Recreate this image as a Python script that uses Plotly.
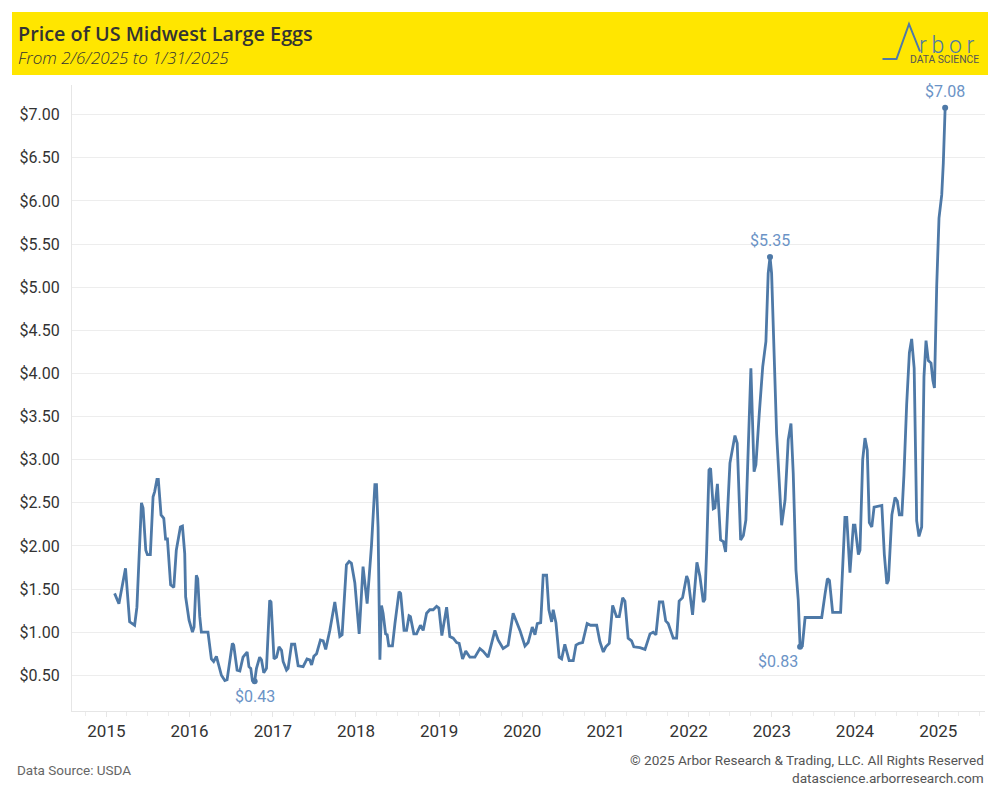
import plotly.graph_objects as go

# ---------------- data ----------------
dates = [
    "2015-02-06", "2015-02-25", "2015-03-26", "2015-04-13", "2015-05-05", "2015-05-15", "2015-06-04", "2015-06-11",
    "2015-06-23", "2015-06-30", "2015-07-13", "2015-07-25", "2015-08-01", "2015-08-11", "2015-08-17", "2015-08-29",
    "2015-09-10", "2015-09-18", "2015-09-26", "2015-10-10", "2015-10-24", "2015-11-04", "2015-11-22", "2015-12-01",
    "2015-12-11", "2015-12-15", "2015-12-30", "2016-01-14", "2016-01-21", "2016-01-31", "2016-02-06", "2016-02-15",
    "2016-02-22", "2016-03-22", "2016-04-06", "2016-04-16", "2016-04-28", "2016-05-10", "2016-05-20", "2016-06-04",
    "2016-06-14", "2016-07-07", "2016-07-13", "2016-07-28", "2016-08-09", "2016-08-23", "2016-09-10", "2016-09-18",
    "2016-09-26", "2016-10-03", "2016-10-13", "2016-10-21", "2016-11-04", "2016-11-12", "2016-11-22", "2016-12-04",
    "2016-12-18", "2016-12-24", "2017-01-06", "2017-01-17", "2017-01-28", "2017-02-08", "2017-02-15", "2017-03-02",
    "2017-03-09", "2017-03-24", "2017-04-07", "2017-04-22", "2017-05-14", "2017-05-31", "2017-06-12", "2017-06-20",
    "2017-06-30", "2017-07-12", "2017-07-29", "2017-08-10", "2017-08-21", "2017-09-08", "2017-09-30", "2017-10-22",
    "2017-11-01", "2017-11-20", "2017-12-02", "2017-12-12", "2017-12-27", "2018-01-15", "2018-02-01", "2018-02-19",
    "2018-03-10", "2018-03-25", "2018-04-01", "2018-04-08", "2018-04-16", "2018-04-23", "2018-04-30", "2018-05-11",
    "2018-05-18", "2018-05-25", "2018-06-10", "2018-06-21", "2018-07-09", "2018-07-16", "2018-07-31", "2018-08-11",
    "2018-08-22", "2018-08-28", "2018-09-12", "2018-09-24", "2018-10-11", "2018-10-23", "2018-11-07", "2018-11-21",
    "2018-12-06", "2018-12-21", "2018-12-31", "2019-01-13", "2019-02-03", "2019-02-17", "2019-03-04", "2019-03-19",
    "2019-03-30", "2019-04-14", "2019-04-28", "2019-05-16", "2019-06-07", "2019-06-29", "2019-07-13", "2019-08-04",
    "2019-08-19", "2019-09-03", "2019-09-17", "2019-10-09", "2019-10-31", "2019-11-22", "2019-12-22", "2020-01-13",
    "2020-01-27", "2020-02-14", "2020-02-26", "2020-03-07", "2020-03-22", "2020-04-02", "2020-04-17", "2020-04-27",
    "2020-05-09", "2020-05-16", "2020-05-28", "2020-06-11", "2020-06-22", "2020-07-06", "2020-07-25", "2020-08-12",
    "2020-08-24", "2020-09-07", "2020-09-22", "2020-10-12", "2020-10-27", "2020-11-23", "2020-12-07", "2020-12-22",
    "2021-01-02", "2021-01-17", "2021-02-01", "2021-02-18", "2021-03-02", "2021-03-17", "2021-03-27", "2021-04-10",
    "2021-04-25", "2021-05-05", "2021-06-01", "2021-06-23", "2021-07-15", "2021-07-29", "2021-08-10", "2021-08-25",
    "2021-09-09", "2021-09-22", "2021-10-03", "2021-10-25", "2021-11-09", "2021-11-20", "2021-12-05", "2021-12-23",
    "2021-12-30", "2022-01-18", "2022-02-06", "2022-02-19", "2022-03-06", "2022-03-13", "2022-03-21", "2022-03-31",
    "2022-04-07", "2022-04-19", "2022-04-26", "2022-05-07", "2022-05-21", "2022-06-02", "2022-06-12", "2022-07-01",
    "2022-07-23", "2022-08-02", "2022-08-17", "2022-08-29", "2022-09-09", "2022-09-20", "2022-10-01", "2022-10-15",
    "2022-10-23", "2022-11-07", "2022-11-22", "2022-12-06", "2022-12-16", "2022-12-24", "2022-12-31", "2023-01-22",
    "2023-02-13", "2023-02-28", "2023-03-14", "2023-03-26", "2023-04-05", "2023-04-17", "2023-04-27", "2023-05-05",
    "2023-05-15", "2023-05-27", "2023-08-08", "2023-08-23", "2023-09-02", "2023-09-11", "2023-09-25", "2023-10-30",
    "2023-11-18", "2023-11-26", "2023-12-10", "2023-12-25", "2024-01-01", "2024-01-16", "2024-01-23", "2024-02-04",
    "2024-02-14", "2024-02-24", "2024-03-04", "2024-03-15", "2024-03-25", "2024-04-28", "2024-05-09", "2024-05-20",
    "2024-05-27", "2024-06-11", "2024-06-25", "2024-07-05", "2024-07-14", "2024-07-25", "2024-08-03", "2024-08-15",
    "2024-08-27", "2024-09-06", "2024-09-17", "2024-09-28", "2024-10-08", "2024-10-20", "2024-10-30", "2024-11-08",
    "2024-11-18", "2024-11-30", "2024-12-08", "2024-12-15", "2024-12-25", "2025-01-04", "2025-01-16", "2025-01-23",
    "2025-01-31",
]
prices = [
    1.45, 1.33, 1.74, 1.12, 1.08, 1.29, 2.50, 2.44,
    1.95, 1.90, 1.90, 2.57, 2.63, 2.77, 2.77, 2.36,
    2.32, 2.08, 2.08, 1.55, 1.52, 1.95, 2.22, 2.23,
    1.91, 1.41, 1.14, 1.00, 1.06, 1.66, 1.62, 1.18,
    1.00, 1.00, 0.69, 0.66, 0.72, 0.60, 0.50, 0.44,
    0.45, 0.87, 0.85, 0.56, 0.55, 0.71, 0.77, 0.60,
    0.58, 0.44, 0.43, 0.58, 0.71, 0.68, 0.53, 0.58,
    1.37, 1.35, 0.69, 0.71, 0.83, 0.79, 0.66, 0.56,
    0.58, 0.86, 0.86, 0.61, 0.60, 0.69, 0.68, 0.62,
    0.72, 0.75, 0.91, 0.90, 0.80, 1.02, 1.35, 0.95,
    0.97, 1.78, 1.82, 1.80, 1.57, 0.98, 1.76, 1.33,
    2.00, 2.71, 2.71, 2.22, 0.68, 1.31, 1.22, 0.98,
    0.97, 0.84, 0.84, 1.10, 1.47, 1.45, 1.02, 1.02,
    1.19, 1.18, 0.98, 0.98, 1.08, 1.02, 1.22, 1.26,
    1.26, 1.30, 1.28, 0.96, 1.29, 0.95, 0.93, 0.88,
    0.87, 0.69, 0.78, 0.71, 0.71, 0.81, 0.78, 0.71,
    0.87, 1.02, 0.91, 0.81, 0.85, 1.22, 1.02, 0.84,
    0.88, 1.06, 0.97, 1.10, 1.11, 1.66, 1.66, 1.26,
    1.12, 1.26, 1.11, 0.71, 0.69, 0.86, 0.67, 0.67,
    0.85, 0.87, 0.88, 1.10, 1.08, 1.08, 0.89, 0.77,
    0.83, 0.87, 1.31, 1.18, 1.18, 1.40, 1.36, 0.93,
    0.90, 0.83, 0.82, 0.80, 0.98, 1.00, 0.97, 1.35,
    1.35, 1.13, 1.10, 0.93, 0.93, 1.36, 1.40, 1.65,
    1.60, 1.20, 1.81, 1.65, 1.35, 1.38, 1.96, 2.88,
    2.90, 2.43, 2.44, 2.72, 2.07, 2.05, 1.93, 2.96,
    3.28, 3.19, 2.07, 2.12, 2.30, 3.23, 4.06, 2.86,
    2.94, 3.54, 4.08, 4.37, 5.16, 5.35, 5.16, 3.30,
    2.24, 2.53, 3.23, 3.42, 2.84, 1.72, 1.37, 0.83,
    0.84, 1.17, 1.17, 1.45, 1.62, 1.60, 1.23, 1.23,
    2.33, 2.33, 1.69, 2.24, 2.24, 1.90, 1.95, 3.00,
    3.25, 3.11, 2.27, 2.22, 2.45, 2.47, 1.90, 1.56,
    1.60, 2.36, 2.56, 2.52, 2.36, 2.36, 2.82, 3.64,
    4.24, 4.40, 4.06, 2.29, 2.11, 2.22, 3.96, 4.38,
    4.15, 4.12, 3.92, 3.83, 5.02, 5.80, 6.07, 6.44,
    7.08,
]
y_tick_values = [0.5, 1.0, 1.5, 2.0, 2.5, 3.0, 3.5, 4.0, 4.5, 5.0, 5.5, 6.0, 6.5, 7.0]
y_tick_labels = ["$%.2f" % v for v in y_tick_values]
x_tick_years = [str(y) for y in range(2015, 2026)]

title_text = "Price of US Midwest Large Eggs"
subtitle_text = "From 2/6/2025 to 1/31/2025"
source_text = "Data Source: USDA"
copyright_text = "\u00a9 2025 Arbor Research &amp; Trading, LLC. All Rights Reserved"
site_text = "datascience.arborresearch.com"

# highlighted points (found from the data)
i_max = max(range(len(prices)), key=lambda i: prices[i])
i_min = min(range(len(prices)), key=lambda i: prices[i])
i_peak23 = max((i for i in range(len(prices)) if dates[i] < "2023-06-01"), key=lambda i: prices[i])
i_low23 = min((i for i in range(len(prices)) if dates[i] >= "2022-06-01"), key=lambda i: prices[i])
hi_idx = [i_max, i_peak23, i_low23, i_min]

# ---------------- styling ----------------
FONT = "Roboto, 'Open Sans', sans-serif"
TFONT = "'Open Sans', Roboto, sans-serif"
LINE = "#4e79a7"
LABEL = "#6b93c6"
OFF = 8                      # page body margin of the html page
W, H = 1000 - OFF, 800 - OFF
PL, PR, PT, PB = 72, 985, 85, 711   # plot area in window pixels


def px(x):
    return (x - PL) / (PR - PL)


def py(y):
    return (PB - y) / (PB - PT)


fig = go.Figure()
fig.add_trace(go.Scatter(
    x=dates, y=prices, mode="lines",
    line=dict(color=LINE, width=2.8, shape="linear"),
    hoverinfo="x+y", showlegend=False,
))
fig.add_trace(go.Scatter(
    x=[dates[i] for i in hi_idx], y=[prices[i] for i in hi_idx], mode="markers",
    marker=dict(color=LINE, size=6), showlegend=False, hoverinfo="skip",
))

annotations = []
label_offsets = {i_max: (0, 16), i_peak23: (0, 16), i_low23: (-22, -15), i_min: (0, -15)}
for i in hi_idx:
    dx, dy = label_offsets[i]
    annotations.append(dict(
        x=dates[i], y=prices[i], xref="x", yref="y", text="$%.2f" % prices[i],
        showarrow=False, xshift=dx, yshift=dy,
        font=dict(family=FONT, size=16, color=LABEL),
    ))

# header texts
annotations += [
    dict(x=px(16), y=py(33), xref="paper", yref="paper", text=title_text, showarrow=False,
         xanchor="left", yanchor="middle", font=dict(family=TFONT, size=19.8, color="#333333", weight=600)),
    dict(x=px(16), y=py(57), xref="paper", yref="paper", text=subtitle_text, showarrow=False,
         xanchor="left", yanchor="middle",
         font=dict(family=TFONT, size=17, color="#333333", style="italic", weight=300)),
    dict(x=px(917), y=py(45), xref="paper", yref="paper", text="r\u2009b\u2009o\u2009r", showarrow=False,
         xanchor="left", yanchor="middle", font=dict(family=FONT, size=23, color=LINE, weight=300)),
    dict(x=px(981), y=py(59), xref="paper", yref="paper", text="DATA SCIENCE", showarrow=False,
         xanchor="right", yanchor="middle", font=dict(family=FONT, size=10.3, color="#555555")),
    # footer
    dict(x=px(15), y=py(770), xref="paper", yref="paper", text=source_text, showarrow=False,
         xanchor="left", yanchor="middle", font=dict(family=FONT, size=13.5, color="#666666")),
    dict(x=px(986), y=py(760), xref="paper", yref="paper", text=copyright_text, showarrow=False,
         xanchor="right", yanchor="middle", font=dict(family=FONT, size=13.6, color="#555555")),
    dict(x=px(986), y=py(778), xref="paper", yref="paper", text=site_text, showarrow=False,
         xanchor="right", yanchor="middle", font=dict(family=FONT, size=13.6, color="#555555")),
]

shapes = [
    dict(type="rect", xref="paper", yref="paper", x0=px(12), x1=px(988), y0=py(75), y1=py(12),
         fillcolor="#FFE600", line=dict(width=0), layer="below"),
    dict(type="path", xref="paper", yref="paper",
         path="M %f,%f L %f,%f L %f,%f L %f,%f" % (px(882.5), py(59), px(896.5), py(59),
                                                    px(909), py(24), px(920), py(51.5)),
         line=dict(color=LINE, width=2)),
]

fig.update_layout(
    width=W, height=H,
    margin=dict(l=PL - OFF, r=W - (PR - OFF), t=PT - OFF, b=H - (PB - OFF), pad=0),
    paper_bgcolor="white", plot_bgcolor="white",
    font=dict(family=FONT, color="#333333"),
    annotations=annotations, shapes=shapes,
    xaxis=dict(
        type="date", range=["2014-08-03", "2025-07-25"],
        tickvals=[y + "-01-01" for y in x_tick_years], ticktext=x_tick_years,
        tickfont=dict(family=FONT, size=17, color="#333333"),
        showgrid=False, zeroline=False,
        showline=True, linecolor="#e6e6e6", linewidth=1,
        ticks="outside", ticklen=5, tickcolor="#e6e6e6",
        minor=dict(dtick="M3", tick0="2015-01-01", ticks="outside", ticklen=4, tickcolor="#ececec", showgrid=False),
    ),
    yaxis=dict(
        range=[0.086, 7.344],
        tickvals=y_tick_values, ticktext=y_tick_labels,
        tickfont=dict(family=FONT, size=16, color="#333333"),
        showgrid=True, gridcolor="#ededed", gridwidth=1,
        zeroline=False, showline=True, linecolor="#e6e6e6", linewidth=1,
        ticks="", ticklabelstandoff=8,
    ),
)

fig.write_html("out.html")
